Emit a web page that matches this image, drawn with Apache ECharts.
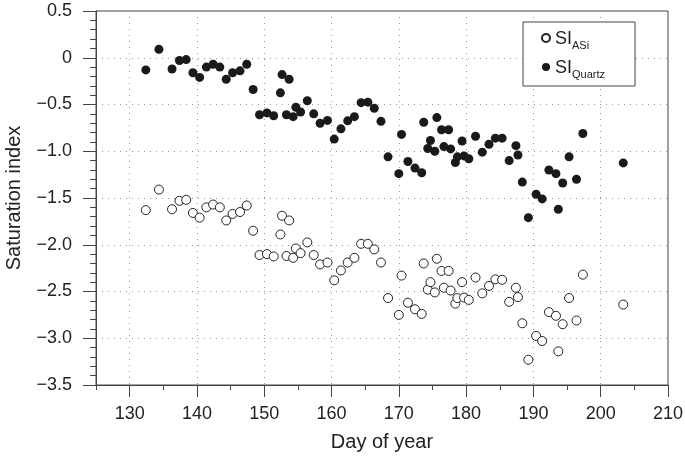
<!DOCTYPE html>
<html>
<head>
<meta charset="utf-8">
<script src="https://cdn.jsdelivr.net/npm/echarts@6/dist/echarts.min.js"></script>
<style>html,body{margin:0;padding:0;background:#fff}#c{width:685px;height:456px}</style>
</head>
<body>
<div id="c"></div>
<script>
const days = [132.4,134.35,136.3,137.4,138.4,139.4,140.4,141.4,142.4,143.4,144.35,145.3,146.4,147.4,148.35,149.3,150.4,151.4,152.4,152.65,153.3,153.7,154.3,154.7,155.4,156.4,157.35,158.3,159.4,160.4,161.4,162.4,163.4,164.4,165.4,166.35,167.35,168.4,170.0,170.4,171.35,172.4,173.4,173.7,174.3,174.7,175.35,175.65,176.35,176.7,177.4,177.7,178.4,178.7,179.4,179.7,180.4,181.4,182.4,183.4,184.35,185.35,186.4,187.4,187.7,188.35,189.25,190.4,191.3,192.3,193.35,193.7,194.35,195.3,196.4,197.35,203.35];
const siQuartz = [-0.13,0.09,-0.12,-0.03,-0.02,-0.16,-0.21,-0.10,-0.07,-0.10,-0.23,-0.16,-0.14,-0.07,-0.34,-0.61,-0.59,-0.62,-0.375,-0.18,-0.61,-0.23,-0.63,-0.53,-0.58,-0.46,-0.60,-0.70,-0.67,-0.87,-0.76,-0.675,-0.63,-0.48,-0.475,-0.54,-0.68,-1.06,-1.24,-0.82,-1.11,-1.18,-1.23,-0.69,-0.97,-0.885,-1.0,-0.64,-0.77,-0.95,-0.77,-0.975,-1.12,-1.06,-0.89,-1.05,-1.08,-0.84,-1.01,-0.925,-0.86,-0.86,-1.10,-0.94,-1.04,-1.33,-1.71,-1.46,-1.51,-1.20,-1.24,-1.62,-1.34,-1.06,-1.30,-0.81,-1.125];
const siASi = [-1.63,-1.41,-1.62,-1.53,-1.52,-1.66,-1.71,-1.60,-1.57,-1.60,-1.74,-1.67,-1.65,-1.58,-1.85,-2.11,-2.10,-2.125,-1.89,-1.69,-2.12,-1.74,-2.14,-2.04,-2.09,-1.975,-2.11,-2.21,-2.19,-2.38,-2.275,-2.19,-2.14,-1.99,-1.99,-2.05,-2.19,-2.57,-2.75,-2.33,-2.62,-2.69,-2.74,-2.20,-2.48,-2.40,-2.51,-2.15,-2.28,-2.46,-2.28,-2.49,-2.63,-2.57,-2.40,-2.565,-2.59,-2.35,-2.52,-2.44,-2.37,-2.375,-2.61,-2.46,-2.56,-2.84,-3.23,-2.975,-3.03,-2.72,-2.76,-3.14,-2.85,-2.57,-2.81,-2.32,-2.64];
const xMajorTicks = [130,140,150,160,170,180,190,200,210];
const xLabel = 'Day of year';
const yLabel = 'Saturation index';

const FONT = '"Liberation Sans", Arial, sans-serif';
const TXT = '#222';
const fmtY = v => {
  if (Math.abs(v) < 1e-9) return '0';
  const s = Math.abs(v).toFixed(1);
  return v < 0 ? '\u2212' + s : s;
};

const chart = echarts.init(document.getElementById('c'));
chart.setOption({
  animation: false,
  backgroundColor: '#fff',
  grid: { left: 96, right: 17, top: 11, bottom: 71, show: true, borderColor: '#444', borderWidth: 1,
          containLabel: false, outerBoundsMode: 'none' },
  legend: {
    orient: 'vertical', left: 523, top: 22, width: 130, height: 60,
    padding: [8, 30, 6, 18], itemGap: 8, itemWidth: 8, itemHeight: 8,
    borderColor: '#444', borderWidth: 1, backgroundColor: '#fff',
    icon: 'circle',
    textStyle: {
      fontFamily: FONT, color: TXT,
      rich: {
        a: { fontSize: 18, fontFamily: FONT, color: TXT, verticalAlign: 'bottom', lineHeight: 20 },
        b: { fontSize: 11, fontFamily: FONT, color: TXT, verticalAlign: 'bottom', lineHeight: 14, padding: [0,0,-3,0] }
      }
    },
    formatter: n => n === 'ASi' ? '{a|SI}{b|ASi}' : '{a|SI}{b|Quartz}',
    data: ['ASi', 'Quartz']
  },
  xAxis: [{
    type: 'value', min: 125, max: 210, interval: 5,
    axisLine: { show: true, onZero: false, lineStyle: { color: '#444' } },
    axisTick: { show: true, length: 5, inside: false, lineStyle: { color: '#444' } },
    axisLabel: { show: false },
    splitLine: { show: false }
  }, {
    type: 'value', min: 125, max: 210, position: 'bottom',
    axisLine: { show: false, onZero: false },
    axisTick: { show: true, length: 12, customValues: xMajorTicks, lineStyle: { color: '#444' } },
    axisLabel: { show: true, customValues: xMajorTicks, fontSize: 18, fontFamily: FONT, color: TXT, margin: 20 },
    splitLine: { show: true, lineStyle: { color: '#999', type: [1, 5], width: 1 } },
    name: xLabel, nameLocation: 'middle', nameGap: 47,
    nameTextStyle: { fontSize: 20, fontFamily: FONT, color: TXT }
  }],
  yAxis: {
    type: 'value', min: -3.5, max: 0.5, interval: 0.5,
    axisLine: { show: true, onZero: false, lineStyle: { color: '#444' } },
    axisTick: { show: true, length: 13, lineStyle: { color: '#444' } },
    minorTick: { show: true, splitNumber: 5, length: 6, lineStyle: { color: '#444' } },
    axisLabel: { formatter: fmtY, fontSize: 18, fontFamily: FONT, color: TXT, margin: 24 },
    splitLine: { show: true, lineStyle: { color: '#999', type: [1, 5], width: 1 } },
    name: yLabel, nameLocation: 'middle', nameGap: 72,
    nameTextStyle: { fontSize: 20, fontFamily: FONT, color: TXT }
  },
  series: [{
    name: 'ASi', type: 'scatter', xAxisIndex: 0, symbol: 'circle', symbolSize: 9,
    itemStyle: { color: '#fff', borderColor: '#222', borderWidth: 1, opacity: 1 },
    data: days.map((d, i) => [d, siASi[i]])
  }, {
    name: 'Quartz', type: 'scatter', xAxisIndex: 0, symbol: 'circle', symbolSize: 9,
    itemStyle: { color: '#1a1a1a', opacity: 1 },
    data: days.map((d, i) => [d, siQuartz[i]])
  }]
});
</script>
</body>
</html>
